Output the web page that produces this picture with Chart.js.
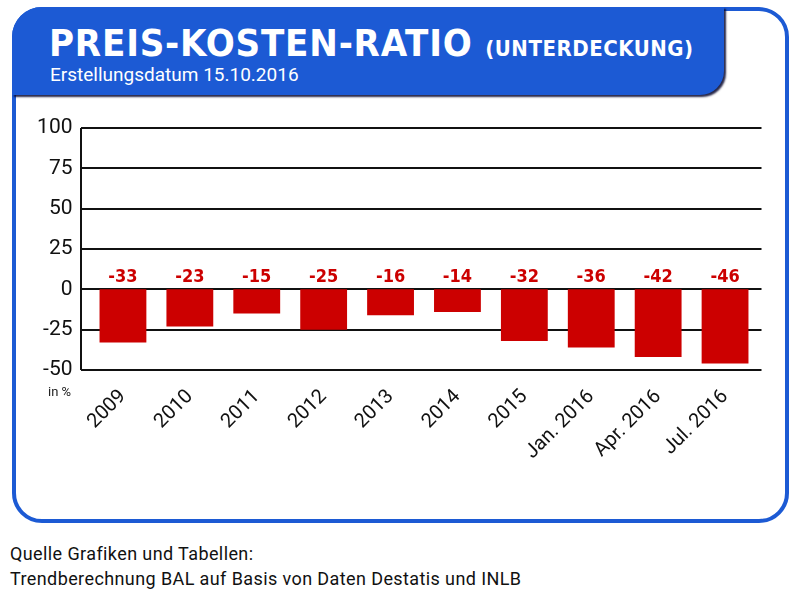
<!DOCTYPE html>
<html>
<head>
<meta charset="utf-8">
<script src="https://cdn.jsdelivr.net/npm/chart.js@4/dist/chart.umd.min.js"></script>
<style>
  html, body { margin:0; padding:0; background:#fff; width:800px; height:598px; overflow:hidden; }
  #frame { position:absolute; left:12px; top:7px; width:777px; height:516px; box-sizing:border-box;
           border:4px solid #1c5ad4; border-radius:30px; }
  #header { position:absolute; left:12px; top:7px; width:712px; height:88px; background:#1c5ad4;
            border-top-left-radius:30px; border-bottom-right-radius:24px;
            box-shadow: 2px 2px 2px rgba(0,0,40,0.85); }
  #title { position:absolute; left:49px; top:24px; color:#fff; white-space:nowrap; line-height:1;
           font-family:"DejaVu Sans Condensed","DejaVu Sans",sans-serif; font-weight:bold; font-size:38px; letter-spacing:0.8px; }
  #title span { font-size:22px; letter-spacing:0.5px; }
  #sub { position:absolute; left:50px; top:63px; color:#fff; white-space:nowrap;
         font-family:"Roboto",sans-serif; font-size:19px; }
  #inpct { position:absolute; left:48px; top:384px; font-family:"Roboto",sans-serif; font-size:13px; color:#222; }
  #foot { position:absolute; left:10px; top:541px; font-family:"Roboto",sans-serif; font-size:18px; letter-spacing:0.4px; line-height:25px; color:#111; }
  #wrap { position:absolute; left:0; top:100px; width:800px; height:420px; }
</style>
</head>
<body>
<div id="frame"></div>
<div id="header"></div>
<div id="title">PREIS-KOSTEN-RATIO <span>(UNTERDECKUNG)</span></div>
<div id="sub">Erstellungsdatum 15.10.2016</div>
<div id="wrap"><canvas id="c"></canvas></div>
<div id="inpct">in %</div>
<div id="foot">Quelle Grafiken und Tabellen:<br>Trendberechnung BAL auf Basis von Daten Destatis und INLB</div>
<script>
const categories = ["2009","2010","2011","2012","2013","2014","2015","Jan. 2016","Apr. 2016","Jul. 2016"];
const values = [-33,-23,-15,-25,-16,-14,-32,-36,-42,-46];
const yTicks = [100,75,50,25,0,-25,-50];

const gridPlugin = {
  id:'gridPlugin',
  beforeDatasetsDraw(chart){
    const ctx = chart.ctx, y = chart.scales.y, a = chart.chartArea;
    const x0 = a.left - 8.5, x1 = a.right + 3;
    ctx.save();
    ctx.strokeStyle = '#111'; ctx.lineWidth = 2;
    yTicks.forEach(v => {
      const py = Math.round(y.getPixelForValue(v));
      ctx.beginPath(); ctx.moveTo(x0, py); ctx.lineTo(x1, py); ctx.stroke();
    });
    ctx.beginPath();
    ctx.moveTo(x0, y.getPixelForValue(100)); ctx.lineTo(x0, y.getPixelForValue(-50)); ctx.stroke();
    ctx.restore();
  },
  afterDatasetsDraw(chart){
    const ctx = chart.ctx, y = chart.scales.y;
    const meta = chart.getDatasetMeta(0);
    ctx.save();
    ctx.fillStyle = '#cc0000';
    ctx.font = 'bold 18px "DejaVu Sans Condensed", "DejaVu Sans", sans-serif';
    ctx.textAlign = 'center'; ctx.textBaseline = 'alphabetic';
    meta.data.forEach((bar, i) => {
      ctx.fillText(String(values[i]), bar.x, y.getPixelForValue(0) - 7);
    });
    ctx.restore();
  }
};

new Chart(document.getElementById('c'), {
  type:'bar',
  data:{ labels:categories, datasets:[{ data:values, backgroundColor:'#cc0000', borderWidth:0,
         barPercentage:0.7, categoryPercentage:1.0 }] },
  options:{
    responsive:true, maintainAspectRatio:false, animation:false,
    layout:{ padding:{ left:29.5, right:41.5, top:28, bottom:50 } },
    plugins:{ legend:{display:false}, tooltip:{enabled:false} },
    scales:{
      y:{ min:-50, max:100, afterBuildTicks(s){ s.ticks = yTicks.map(v=>({value:v})); },
          afterFit(s){ s.width = 60; },
          grid:{ display:false }, border:{ display:false },
          ticks:{ color:'#111', padding:9, font:{ family:'Roboto', size:21 } } },
      x:{ offset:true, afterFit(s){ s.height = 100; },
          grid:{ display:false }, border:{ display:false },
          ticks:{ color:'#111', autoSkip:false, maxRotation:45, minRotation:45, padding:7,
                  font:{ family:'Roboto', size:20 } } }
    }
  },
  plugins:[gridPlugin]
});
</script>
</body>
</html>
